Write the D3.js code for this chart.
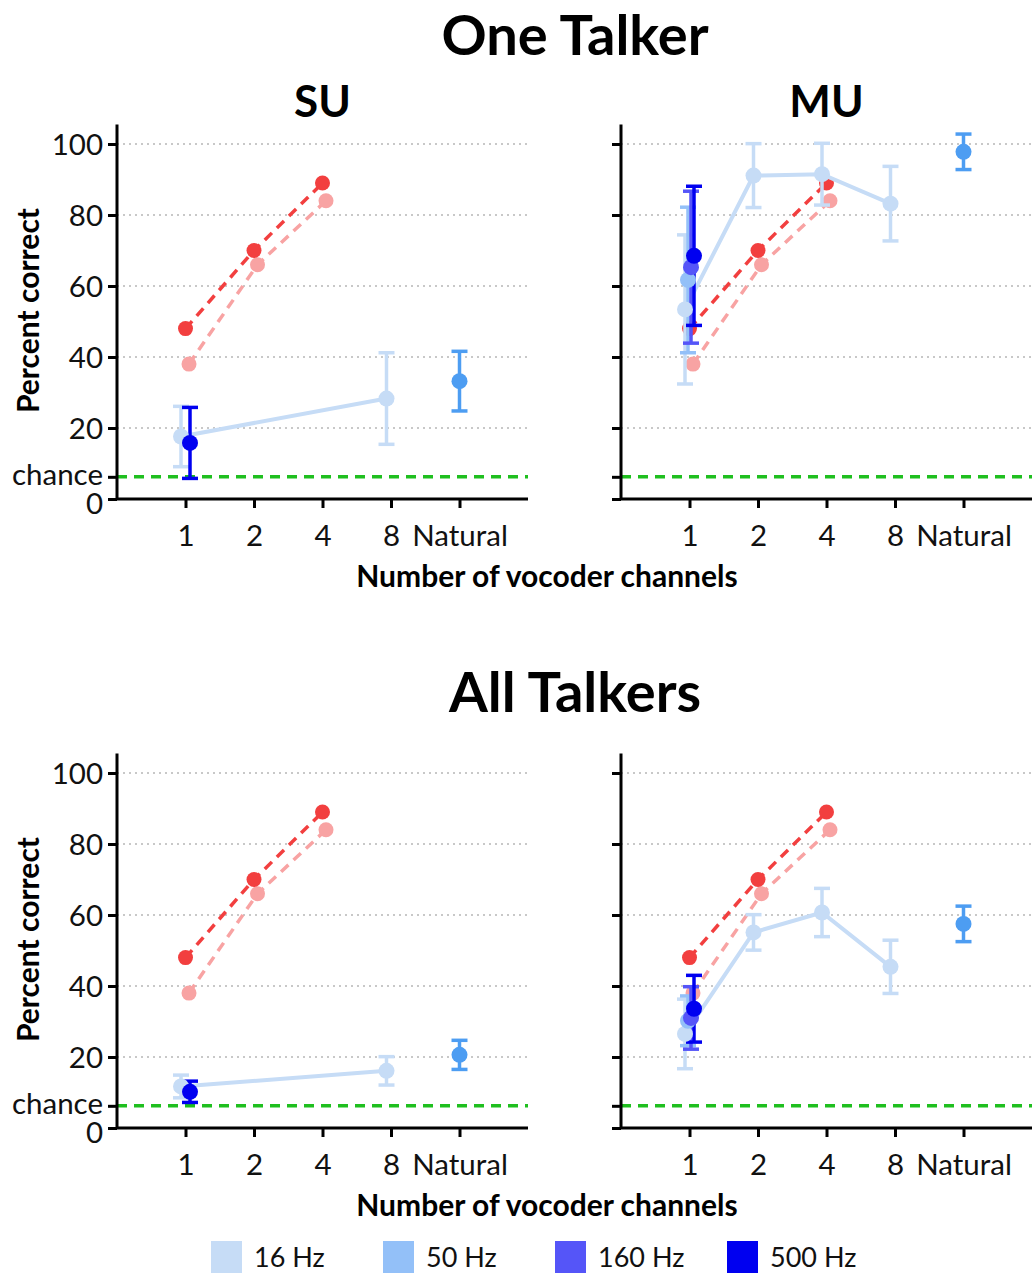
<!DOCTYPE html>
<html>
<head>
<meta charset="utf-8">
<script src="https://cdn.jsdelivr.net/npm/d3@7"></script>
<style>
  html, body { margin: 0; padding: 0; background: #fff; }
  svg { display: block; font-family: Lato, "Open Sans", sans-serif; }
</style>
</head>
<body>
<svg id="chart" width="1032" height="1273"></svg>
<script>
// Category labels along the x axis (positions 1..5)
const channelLabels = ["1", "2", "4", "8", "Natural"];
// Modulation-rate series shown in the legend
const rateLabels = ["16 Hz", "50 Hz", "160 Hz", "500 Hz"];
const rateColors = ["#c6dcf6", "#93c0f8", "#5555f8", "#0000f0"];
const naturalColor = "#4d9df2";

// Y ticks (the "chance" tick sits at 1/16)
const chanceLevel = 6.25;
const yTickValues = [0, chanceLevel, 20, 40, 60, 80, 100];

// Reference curves repeated in every panel (channels 1, 2, 4)
const refChannels = ["1", "2", "4"];
const refDark = [48, 70, 89];
const refLight = [38, 66, 84];

// Per-panel measurements: [channel, mean, sem] for each modulation rate
const oneSU16 = [["1", 17.6, 8.5], ["8", 28.3, 12.9]];
const oneSU500 = [["1", 15.8, 10.0]];
const oneSUNatural = [33.2, 8.4];

const oneMU16 = [["1", 53.4, 21.0], ["2", 91.1, 9.0], ["4", 91.5, 8.7], ["8", 83.2, 10.5]];
const oneMU50 = [["1", 61.7, 20.5]];
const oneMU160 = [["1", 65.3, 21.4]];
const oneMU500 = [["1", 68.5, 19.6]];
const oneMUNatural = [97.8, 5.0];

const allSU16 = [["1", 11.7, 3.2], ["8", 16.1, 4.0]];
const allSU500 = [["1", 10.2, 3.0]];
const allSUNatural = [20.6, 4.1];

const allMU16 = [["1", 26.5, 9.8], ["2", 55.1, 5.0], ["4", 60.7, 6.8], ["8", 45.4, 7.5]];
const allMU50 = [["1", 30.2, 7.0]];
const allMU160 = [["1", 31.0, 8.8]];
const allMU500 = [["1", 33.6, 9.4]];
const allMUNatural = [57.5, 5.0];

const panels = [
  { left: 117, top: 144, bottom: 499, title: "SU", series: [oneSU16, [], [], oneSU500], natural: oneSUNatural, yLabel: true },
  { left: 621, top: 144, bottom: 499, title: "MU", series: [oneMU16, oneMU50, oneMU160, oneMU500], natural: oneMUNatural, yLabel: false },
  { left: 117, top: 773, bottom: 1128, title: null, series: [allSU16, [], [], allSU500], natural: allSUNatural, yLabel: true },
  { left: 621, top: 773, bottom: 1128, title: null, series: [allMU16, allMU50, allMU160, allMU500], natural: allMUNatural, yLabel: false }
];

const svg = d3.select("#chart");
const panelWidth = 411;
const dodge = [-4.5, -1.5, 1.5, 4.5];
const tickFont = 29.5;

panels.forEach(p => {
  const g = svg.append("g");
  const x = d3.scaleLinear().domain([0, 6]).range([p.left, p.left + panelWidth]);
  const xPos = c => x(channelLabels.indexOf(c) + 1);
  const y = d3.scaleLinear().domain([0, 100]).range([p.bottom, p.top]);

  // dotted horizontal grid
  g.selectAll("line.grid").data([20, 40, 60, 80, 100]).join("line")
    .attr("x1", x(0)).attr("x2", x(6))
    .attr("y1", d => y(d)).attr("y2", d => y(d))
    .attr("stroke", "#c8c8c8").attr("stroke-width", 2).attr("stroke-dasharray", "2,4");

  // chance level
  g.append("line")
    .attr("x1", x(0)).attr("x2", x(6))
    .attr("y1", y(chanceLevel)).attr("y2", y(chanceLevel))
    .attr("stroke", "#1fbf1f").attr("stroke-width", 3.5).attr("stroke-dasharray", "10,7");

  // axes
  const yAxis = d3.axisLeft(y).tickValues(yTickValues).tickSize(9).tickPadding(5)
    .tickFormat(d => d === chanceLevel ? "chance" : d3.format("d")(d));
  const ya = g.append("g").attr("transform", `translate(${x(0)},0)`).call(yAxis);
  ya.select(".domain").remove();
  ya.selectAll(".tick line").attr("stroke", "#000").attr("stroke-width", 3);
  ya.selectAll(".tick text").attr("font-size", tickFont).attr("fill", "#111")
    .style("font-family", "Lato, sans-serif").attr("dy", "0.36em");
  // the "0" label sits just below the chance label
  ya.selectAll(".tick text").filter(d => d === 0).attr("dy", "0.5em");
  ya.selectAll(".tick text").filter(d => d === chanceLevel).attr("dy", "0.25em");
  if (!p.yLabel) ya.selectAll(".tick text").remove();

  const xAxis = d3.axisBottom(x).tickValues([1, 2, 3, 4, 5]).tickSize(9).tickPadding(17)
    .tickFormat(i => channelLabels[i - 1]);
  const xa = g.append("g").attr("transform", `translate(0,${y(0)})`).call(xAxis);
  xa.select(".domain").remove();
  xa.selectAll(".tick line").attr("stroke", "#000").attr("stroke-width", 3);
  xa.selectAll(".tick text").attr("font-size", tickFont).attr("fill", "#111")
    .style("font-family", "Lato, sans-serif");

  g.append("path")
    .attr("d", `M${x(0)},${y(105.5)}V${y(0)}H${x(6)}`)
    .attr("fill", "none").attr("stroke", "#000").attr("stroke-width", 3);

  // reference curves
  const refSets = [
    { vals: refLight, color: "#f8a3a3", off: 3.5 },
    { vals: refDark, color: "#f23f3f", off: 0 }
  ];
  refSets.forEach(r => {
    const pts = refChannels.map((c, i) => [xPos(c) + r.off, y(r.vals[i])]);
    g.append("path").attr("d", d3.line()(pts))
      .attr("fill", "none").attr("stroke", r.color).attr("stroke-width", 3.5)
      .attr("stroke-dasharray", "10,7");
  });
  refSets.forEach(r => {
    g.selectAll(null).data(refChannels.map((c, i) => [c, r.vals[i]])).join("circle")
      .attr("cx", d => xPos(d[0]) + r.off).attr("cy", d => y(d[1]))
      .attr("r", 7.5).attr("fill", r.color);
  });

  // connecting lines for series with several channels
  p.series.forEach((s, k) => {
    if (s.length > 1) {
      g.append("path").attr("d", d3.line()(s.map(d => [xPos(d[0]) + dodge[k], y(d[1])])))
        .attr("fill", "none").attr("stroke", rateColors[k]).attr("stroke-width", 4);
    }
  });

  // error bars
  const bar = (cx, m, e, color) => {
    g.append("line").attr("x1", cx).attr("x2", cx).attr("y1", y(m - e)).attr("y2", y(m + e))
      .attr("stroke", color).attr("stroke-width", 3.5);
    [m - e, m + e].forEach(v => {
      g.append("line").attr("x1", cx - 8).attr("x2", cx + 8).attr("y1", y(v)).attr("y2", y(v))
        .attr("stroke", color).attr("stroke-width", 3.5);
    });
  };
  p.series.forEach((s, k) => s.forEach(d => bar(xPos(d[0]) + dodge[k], d[1], d[2], rateColors[k])));
  bar(xPos("Natural"), p.natural[0], p.natural[1], naturalColor);

  // points
  p.series.forEach((s, k) => {
    g.selectAll(null).data(s).join("circle")
      .attr("cx", d => xPos(d[0]) + dodge[k]).attr("cy", d => y(d[1]))
      .attr("r", 8).attr("fill", rateColors[k]);
  });
  g.append("circle").attr("cx", xPos("Natural")).attr("cy", y(p.natural[0]))
    .attr("r", 8).attr("fill", naturalColor);

  if (p.title) {
    svg.append("text").attr("x", x(3)).attr("y", p.top - 27).attr("text-anchor", "middle")
      .attr("font-size", 44).attr("font-weight", 700).attr("fill", "#000").text(p.title);
  }
  if (p.yLabel) {
    svg.append("text").attr("transform", `translate(39,${(p.top + p.bottom) / 2 - 11}) rotate(-90)`)
      .attr("text-anchor", "middle").attr("font-size", 30).attr("font-weight", 700)
      .attr("fill", "#000").text("Percent correct");
  }
});

// section titles
svg.append("text").attr("x", 575).attr("y", 55).attr("text-anchor", "middle")
  .attr("font-size", 56).attr("font-weight", 700).text("One Talker");
svg.append("text").attr("x", 575).attr("y", 712).attr("text-anchor", "middle")
  .attr("font-size", 56).attr("font-weight", 700).text("All Talkers");

// x axis titles
[587, 1216].forEach(yy => {
  svg.append("text").attr("x", 547).attr("y", yy).attr("text-anchor", "middle")
    .attr("font-size", 30).attr("font-weight", 700).text("Number of vocoder channels");
});

// legend
const legend = svg.append("g");
rateLabels.forEach((lab, i) => {
  const lx = 211 + i * 172;
  legend.append("rect").attr("x", lx).attr("y", 1241).attr("width", 31).attr("height", 32)
    .attr("fill", rateColors[i]);
  legend.append("text").attr("x", lx + 43).attr("y", 1267).attr("font-size", 27)
    .attr("fill", "#111").text(lab);
});
</script>
</body>
</html>
